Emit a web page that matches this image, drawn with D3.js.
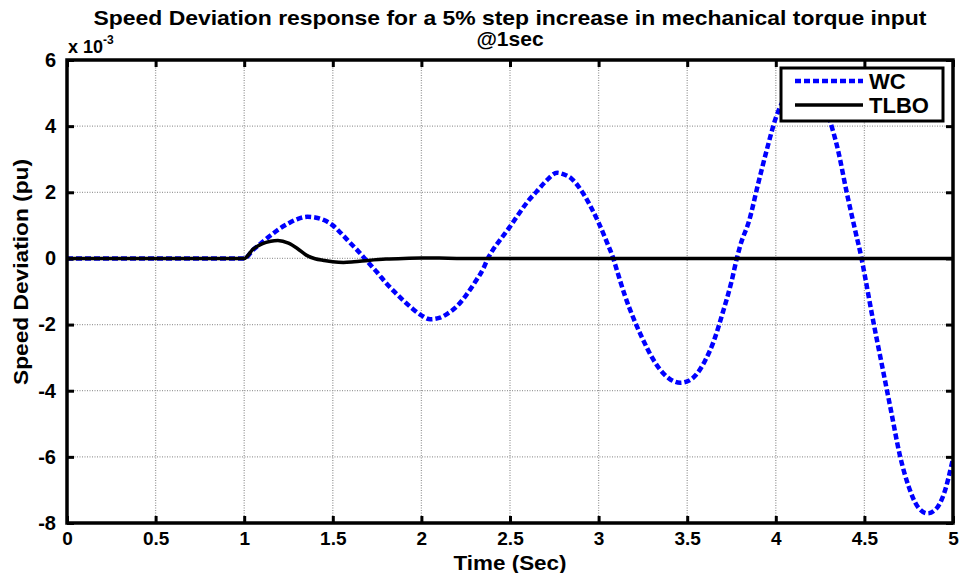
<!DOCTYPE html>
<html>
<head>
<meta charset='utf-8'>
<style>
body {
  margin: 0;
  background: #fff;
}
svg {
  display: block;
  font-family: "Liberation Sans", Arial, sans-serif;
  font-weight: bold;
}
.grid line {
  stroke: #9a9a9a;
  stroke-dasharray: 1,1.5;
  stroke-width: 1.3;
}
.axis path { display: none; }
.axis line { stroke: #000; stroke-width: 3; }
.axis text { fill: #000; font-weight: bold; font-family: "Liberation Sans", Arial, sans-serif; }
</style>
</head>
<body>
<svg width="961" height="573"></svg>
<script src="https://d3js.org/d3.v7.min.js"></script>
<script>

// tick values
var xTicks = [0, 0.5, 1, 1.5, 2, 2.5, 3, 3.5, 4, 4.5, 5];
var yTicks = [-8, -6, -4, -2, 0, 2, 4, 6];

// WC response, speed deviation in units of 1e-3 pu
var timeWC = [0, 1, 1.05, 1.1, 1.15, 1.2, 1.25, 1.3, 1.356, 1.4, 1.45, 1.5, 1.55, 1.6, 1.65, 1.68,
  1.7, 1.75, 1.8, 1.85, 1.9, 1.95, 2.0, 2.05, 2.1, 2.15, 2.2, 2.25, 2.3, 2.35, 2.375,
  2.4, 2.45, 2.5, 2.55, 2.6, 2.65, 2.7, 2.767, 2.8, 2.85, 2.9, 2.95, 3.0, 3.05, 3.083,
  3.1, 3.15, 3.2, 3.25, 3.3, 3.35, 3.4, 3.46, 3.5, 3.55, 3.6, 3.65, 3.7, 3.75, 3.78,
  3.8, 3.85, 3.9, 3.95, 4.0, 4.05, 4.1, 4.16, 4.2, 4.25, 4.3, 4.35, 4.4, 4.45, 4.484,
  4.5, 4.55, 4.6, 4.65, 4.7, 4.75, 4.8, 4.857, 4.9, 4.95, 5.0];
var devWC = [0, 0, 0.26, 0.48, 0.7, 0.9, 1.06, 1.19, 1.26, 1.24, 1.16, 1.0, 0.74, 0.46, 0.18, 0,
  -0.12, -0.42, -0.74, -1.02, -1.28, -1.52, -1.72, -1.84, -1.8, -1.66, -1.45, -1.13, -0.74, -0.3, 0,
  0.23, 0.6, 0.96, 1.35, 1.72, 2.02, 2.32, 2.59, 2.55, 2.4, 2.07, 1.62, 1.08, 0.45, 0,
  -0.3, -1.15, -1.85, -2.45, -2.98, -3.38, -3.64, -3.76, -3.72, -3.52, -3.1, -2.5, -1.65, -0.7, 0,
  0.4, 1.15, 2.25, 3.3, 4.25, 4.85, 5.2, 5.35, 5.3, 4.95, 4.25, 3.3, 2.0, 0.8, 0,
  -0.45, -1.9, -3.25, -4.6, -5.95, -6.9, -7.5, -7.71, -7.6, -7.1, -6.05];

// TLBO response, speed deviation in units of 1e-3 pu
var timeTLBO = [0, 1, 1.05, 1.1, 1.15, 1.19, 1.25, 1.3, 1.35, 1.4, 1.45, 1.5, 1.56, 1.62, 1.7, 1.8,
  1.9, 2.0, 2.1, 2.2, 5];
var devTLBO = [0, 0, 0.28, 0.44, 0.52, 0.54, 0.46, 0.3, 0.1, -0.01, -0.06, -0.1, -0.12, -0.1, -0.06, -0.02,
  0, 0.01, 0.01, 0, 0];

var seriesNames = ['WC', 'TLBO'];

var svg = d3.select('svg'),
    x = d3.scaleLinear().domain([0, 5]).range([67, 953]),
    y = d3.scaleLinear().domain([-8, 6]).range([523, 60]),
    plain = d => String(d),   // hyphen minus, like the original figure
    line = d3.line()
      .x(function(d) { return x(d[0]); })
      .y(function(d) { return y(d[1]); })
      .curve(d3.curveMonotoneX);

svg.append('clipPath').attr('id', 'plotclip')
  .append('rect')
    .attr('x', x(0)).attr('y', y(6))
    .attr('width', x(5) - x(0)).attr('height', y(-8) - y(6));

// grid
var grid = svg.append('g').attr('class', 'grid');
grid.selectAll('.vx').data(xTicks.slice(1, -1)).enter().append('line')
  .attr('x1', d => x(d)).attr('x2', d => x(d))
  .attr('y1', y(6)).attr('y2', y(-8));
grid.selectAll('.hy').data(yTicks.slice(1, -1)).enter().append('line')
  .attr('x1', x(0)).attr('x2', x(5))
  .attr('y1', d => y(d)).attr('y2', d => y(d));

// curves
var curves = svg.append('g').attr('clip-path', 'url(#plotclip)');
curves.append('path')
  .datum(d3.zip(timeWC, devWC))
  .attr('d', line)
  .attr('fill', 'none')
  .attr('stroke', '#0000ff')
  .attr('stroke-width', 4.5)
  .attr('stroke-dasharray', '6,3');
curves.append('path')
  .datum(d3.zip(timeTLBO, devTLBO))
  .attr('d', line)
  .attr('fill', 'none')
  .attr('stroke', '#000')
  .attr('stroke-width', 3.5);

// axes, ticks point inward
svg.append('g').attr('class', 'axis')
  .attr('transform', 'translate(0,' + y(-8) + ')')
  .call(d3.axisBottom(x).tickValues(xTicks).tickSize(-7).tickPadding(9).tickFormat(plain))
  .selectAll('text').attr('font-size', 19);
svg.append('g').attr('class', 'axis')
  .attr('transform', 'translate(0,' + y(6) + ')')
  .call(d3.axisTop(x).tickValues(xTicks).tickSize(-7).tickFormat(''));
svg.append('g').attr('class', 'axis')
  .attr('transform', 'translate(' + x(0) + ',0)')
  .call(d3.axisLeft(y).tickValues(yTicks).tickSize(-7).tickPadding(11).tickFormat(plain))
  .selectAll('text').attr('font-size', 20);
svg.append('g').attr('class', 'axis')
  .attr('transform', 'translate(' + x(5) + ',0)')
  .call(d3.axisRight(y).tickValues(yTicks).tickSize(-7).tickFormat(''));

svg.append('rect')
  .attr('x', x(0)).attr('y', y(6))
  .attr('width', x(5) - x(0)).attr('height', y(-8) - y(6))
  .attr('fill', 'none').attr('stroke', '#000').attr('stroke-width', 3.5);

// exponent label
var expo = svg.append('text').attr('x', 68).attr('y', 53).attr('font-size', 18);
expo.append('tspan').text('x 10');
expo.append('tspan').attr('dy', -9).attr('font-size', 12).text('-3');

// titles
var cx = (x(0) + x(5)) / 2;
svg.append('text')
  .attr('x', cx).attr('y', 25).attr('text-anchor', 'middle').attr('font-size', 21)
  .attr('textLength', 833).attr('lengthAdjust', 'spacingAndGlyphs')
  .text('Speed Deviation response for a 5% step increase in mechanical torque input');
svg.append('text')
  .attr('x', cx).attr('y', 46).attr('text-anchor', 'middle').attr('font-size', 21)
  .text('@1sec');
svg.append('text')
  .attr('x', cx).attr('y', 570).attr('text-anchor', 'middle').attr('font-size', 20)
  .attr('textLength', 113).attr('lengthAdjust', 'spacingAndGlyphs')
  .text('Time (Sec)');
svg.append('text')
  .attr('transform', 'translate(28,272) rotate(-90)')
  .attr('text-anchor', 'middle').attr('font-size', 21)
  .attr('textLength', 226).attr('lengthAdjust', 'spacingAndGlyphs')
  .text('Speed Deviation (pu)');

// legend
var legend = svg.append('g');
legend.append('rect')
  .attr('x', 781).attr('y', 68).attr('width', 162).attr('height', 53)
  .attr('fill', '#fff').attr('stroke', '#000').attr('stroke-width', 3);
var styles = [{stroke: '#0000ff', dash: '6,3', w: 4.5}, {stroke: '#000', dash: null, w: 3.5}];
seriesNames.forEach(function(name, i) {
  var ly = 81 + i * 24;
  legend.append('line')
    .attr('x1', 795).attr('x2', 863).attr('y1', ly).attr('y2', ly)
    .attr('stroke', styles[i].stroke).attr('stroke-width', styles[i].w)
    .attr('stroke-dasharray', styles[i].dash);
  legend.append('text')
    .attr('x', 869).attr('y', ly + 8).attr('font-size', 22)
    .text(name);
});

</script>
</body>
</html>
